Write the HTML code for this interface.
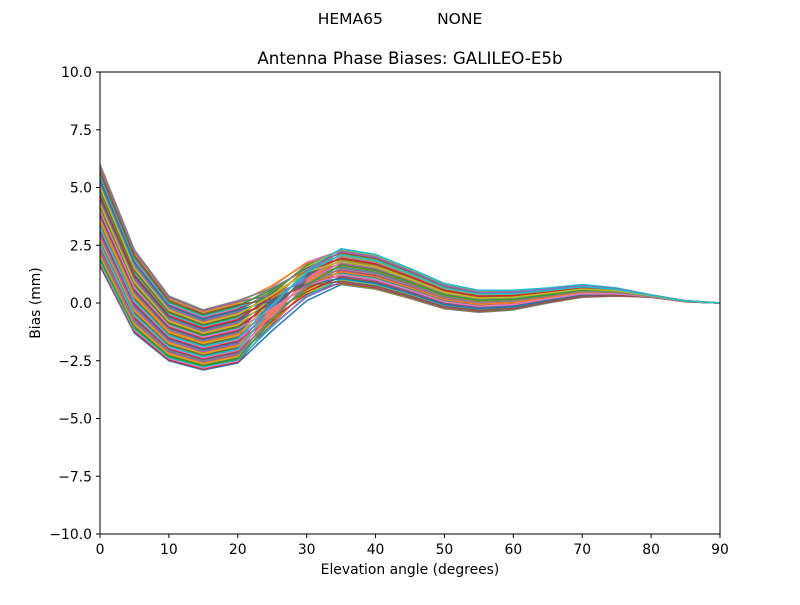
<!DOCTYPE html>
<html><head><meta charset="utf-8"><style>
body{margin:0;background:#fff;}
svg text{font-family:"DejaVu Sans","Liberation Sans",sans-serif;fill:#000;}
</style></head><body>
<svg id="s" width="800" height="600" xmlns="http://www.w3.org/2000/svg">
<rect width="800" height="600" fill="#fff"/>
<g id="lines"></g>
<rect x="100" y="72" width="620" height="462" fill="none" stroke="#000" stroke-width="1"/>
<g id="ticks" font-size="13.9"></g>
<text x="400" y="24" font-size="15.5" text-anchor="middle" xml:space="preserve">HEMA65           NONE</text>
<text x="410" y="64" font-size="16.7" text-anchor="middle">Antenna Phase Biases: GALILEO-E5b</text>
<text x="410" y="574" font-size="13.9" text-anchor="middle">Elevation angle (degrees)</text>
<text transform="translate(40,303) rotate(-90)" font-size="13.9" text-anchor="middle">Bias (mm)</text>
</svg>
<script>
var X=function(e){return 100+e*620/90;},Y=function(v){return 303-v*23.1;};
var up=[6.0,2.3,0.3,-0.3,0.1,0.9,1.9,2.35,2.1,1.5,0.85,0.55,0.55,0.65,0.8,0.65,0.35,0.1,0];
var lo=[1.6,-1.3,-2.5,-2.9,-2.6,-1.2,0.1,0.8,0.6,0.2,-0.25,-0.4,-0.3,0,0.25,0.3,0.25,0.05,0];
var cols=["#1f77b4","#ff7f0e","#2ca02c","#d62728","#9467bd","#8c564b","#e377c2","#7f7f7f","#bcbd22","#17becf"];
var g=document.getElementById('lines'),h='';
var N=60;
for(var i=0;i<N;i++){
 var a=(i*37%N)/(N-1),b=(i*11%N)/(N-1);
 var pts=[];
 for(var k=0;k<19;k++){
  var t=k<=4?a:(k>=7?b:(k==5?(2*a+b)/3:(a+2*b)/3));
  var v=lo[k]+(up[k]-lo[k])*t;
  pts.push(X(k*5).toFixed(1)+','+Y(v).toFixed(1));
 }
 h+='<polyline points="'+pts.join(' ')+'" fill="none" stroke="'+cols[i%10]+'" stroke-width="1.5"/>';
}
g.innerHTML=h;
var t='';
for(var e=0;e<=90;e+=10){var x=X(e);t+='<line x1="'+x+'" y1="534" x2="'+x+'" y2="538" stroke="#000"/><text x="'+x+'" y="554" text-anchor="middle">'+e+'</text>';}
for(var v=-10;v<=10;v+=2.5){var y=Y(v);t+='<line x1="96" y1="'+y+'" x2="100" y2="'+y+'" stroke="#000"/><text x="92" y="'+(y+5)+'" text-anchor="end">'+(v<0?'\u2212':'')+Math.abs(v).toFixed(1)+'</text>';}
document.getElementById('ticks').innerHTML=t;
</script>
</body></html>
